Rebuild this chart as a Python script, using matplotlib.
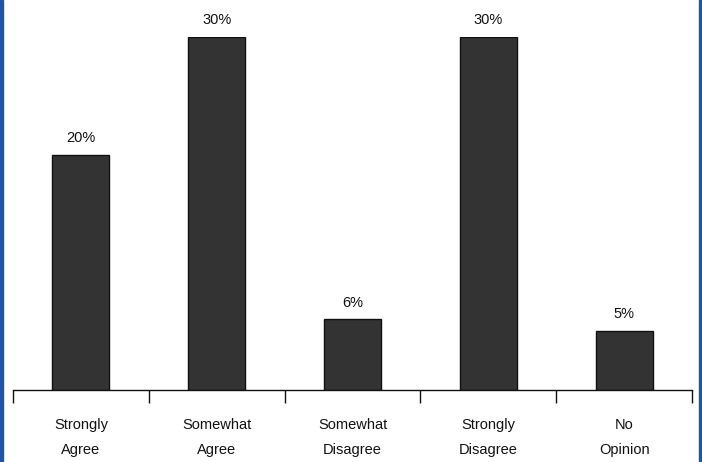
import matplotlib
matplotlib.use("Agg")
import matplotlib.pyplot as plt
from matplotlib.patches import Rectangle
import numpy as np

categories = ["Strongly\nAgree", "Somewhat\nAgree", "Somewhat\nDisagree", "Strongly\nDisagree", "No\nOpinion"]
values = [20, 30, 6, 30, 5]
value_labels = ["20%", "30%", "6%", "30%", "5%"]

plt.rcParams['font.family'] = ['Liberation Sans', 'DejaVu Sans']

W, H = 702, 462
fig = plt.figure(figsize=(W / 100, H / 100), dpi=100)
fig.patch.set_facecolor("white")

ax = fig.add_axes([13 / W, (H - 390) / H, 679 / W, 353 / H])
x = np.arange(len(categories))
bars = ax.bar(x, values, width=0.42, color="#333333", edgecolor="#111111", linewidth=1, zorder=2)

for xi, v, lab in zip(x, values, value_labels):
    ax.annotate(lab, (xi, v), xytext=(0, 7), textcoords="offset points",
                ha="center", va="bottom", fontsize=10.5, color="#111111")

ax.set_xlim(-0.5, len(categories) - 0.5)
ax.set_ylim(0, 30)
for s in ["top", "right", "left"]:
    ax.spines[s].set_visible(False)
ax.spines["bottom"].set_color("#111111")
ax.spines["bottom"].set_linewidth(1)
ax.set_yticks([])

ax.set_xticks(x)
ax.set_xticklabels(categories, fontsize=10.5, linespacing=2.05, color="#111111")
ax.tick_params(axis="x", which="major", length=0, pad=20)
ax.set_xticks(np.arange(-0.5, len(categories)), minor=True)
ax.tick_params(axis="x", which="minor", length=9, width=1, color="#111111", direction="out")

# blue frame edges
fig.patches.append(Rectangle((0, 0), 2.5 / W, 1, transform=fig.transFigure, color="#1f55a8", zorder=10))
fig.patches.append(Rectangle((1 - 3 / W, 0), 3 / W, 1, transform=fig.transFigure, color="#1f55a8", zorder=10))

fig.savefig("out.png", dpi=100, facecolor="white")
